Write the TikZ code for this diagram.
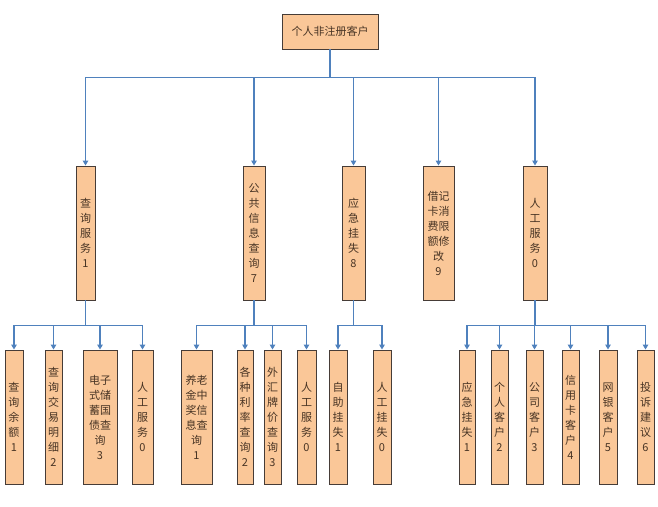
\documentclass[tikz,border=0pt]{standalone}
\usepackage{fontspec}
\usepackage{tikz}
\usepackage{xcolor}
\usetikzlibrary{arrows.meta, positioning}
\newfontfamily\cjk{Noto Sans CJK SC}
\definecolor{cFill}{RGB}{250,199,152}
\definecolor{cEdge}{RGB}{70,60,55}
\definecolor{cLink}{RGB}{79,129,189}
\definecolor{cText}{RGB}{72,52,36}
\tikzset{
	menubox/.style ={rectangle, draw=cEdge, line width=0.9pt, fill=cFill, inner sep=0pt, align=center, text=cText, font=\cjk\fontsize{11}{15}\selectfont},
	rootbox/.style ={menubox, minimum width=96pt, minimum height=35pt},
	midbox/.style  ={menubox, minimum height=134pt},
	leafbox/.style ={menubox, minimum height=134pt},
	link/.style    ={-{Triangle[length=5pt, width=5.5pt]}, draw=cLink, line width=1.1pt},
}

\begin{document}
\begin{tikzpicture}[x=1pt, y=-1pt]
	\useasboundingbox (0,0) rectangle (658,506);
	% root
	\node[rootbox] (root) at (330,31.5) {个人非注册客户};
	% second level
	\node[midbox, minimum width=19pt] (cx) at (85.5,233) {查\\询\\服\\务\\1};
	\node[midbox, minimum width=22pt] (gg) at (254,233) {公\\共\\信\\息\\查\\询\\7};
	\node[midbox, minimum width=23pt] (yj) at (353.5,233) {应\\急\\挂\\失\\8};
	\node[midbox, minimum width=31pt] (jj) at (438.5,233) {借记\\卡消\\费限\\额修\\改\\9};
	\node[midbox, minimum width=24pt] (rg) at (535,233) {人\\工\\服\\务\\0};
	% third level
	\node[leafbox, minimum width=18pt] (cx1) at (14,417) {查\\询\\余\\额\\1};
	\node[leafbox, minimum width=17pt] (cx2) at (53.5,417) {查\\询\\交\\易\\明\\细\\2};
	\node[leafbox, minimum width=34pt] (cx3) at (100,417) {电子\\式储\\蓄国\\债查\\询\\3};
	\node[leafbox, minimum width=21pt] (cx0) at (142.5,417) {人\\工\\服\\务\\0};
	\node[leafbox, minimum width=31pt] (gg1) at (196.5,417) {养老\\金中\\奖信\\息查\\询\\1};
	\node[leafbox, minimum width=16pt] (gg2) at (245,417) {各\\种\\利\\率\\查\\询\\2};
	\node[leafbox, minimum width=17pt] (gg3) at (272.5,417) {外\\汇\\牌\\价\\查\\询\\3};
	\node[leafbox, minimum width=19pt] (gg0) at (306.5,417) {人\\工\\服\\务\\0};
	\node[leafbox, minimum width=18pt] (yj1) at (338,417) {自\\助\\挂\\失\\1};
	\node[leafbox, minimum width=18pt] (yj0) at (382,417) {人\\工\\挂\\失\\0};
	\node[leafbox, minimum width=16pt] (rg1) at (467,417) {应\\急\\挂\\失\\1};
	\node[leafbox, minimum width=17pt] (rg2) at (499.5,417) {个\\人\\客\\户\\2};
	\node[leafbox, minimum width=17pt] (rg3) at (534.5,417) {公\\司\\客\\户\\3};
	\node[leafbox, minimum width=17pt] (rg4) at (570.5,417) {信\\用\\卡\\客\\户\\4};
	\node[leafbox, minimum width=18pt] (rg5) at (608,417) {网\\银\\客\\户\\5};
	\node[leafbox, minimum width=17pt] (rg6) at (645.5,417) {投\\诉\\建\\议\\6};
	% connectors
	\foreach \kid in {cx,gg,yj,jj,rg}
		\draw[link] (root.south) -- ++(0,28) -| (\kid.north);
	\foreach \kid in {cx1,cx2,cx3,cx0}
		\draw[link] (cx.south) -- ++(0,25) -| (\kid.north);
	\foreach \kid in {gg1,gg2,gg3,gg0}
		\draw[link] (gg.south) -- ++(0,25) -| (\kid.north);
	\foreach \kid in {yj1,yj0}
		\draw[link] (yj.south) -- ++(0,25) -| (\kid.north);
	\foreach \kid in {rg1,rg2,rg3,rg4,rg5,rg6}
		\draw[link] (rg.south) -- ++(0,25) -| (\kid.north);
\end{tikzpicture}
\end{document}
